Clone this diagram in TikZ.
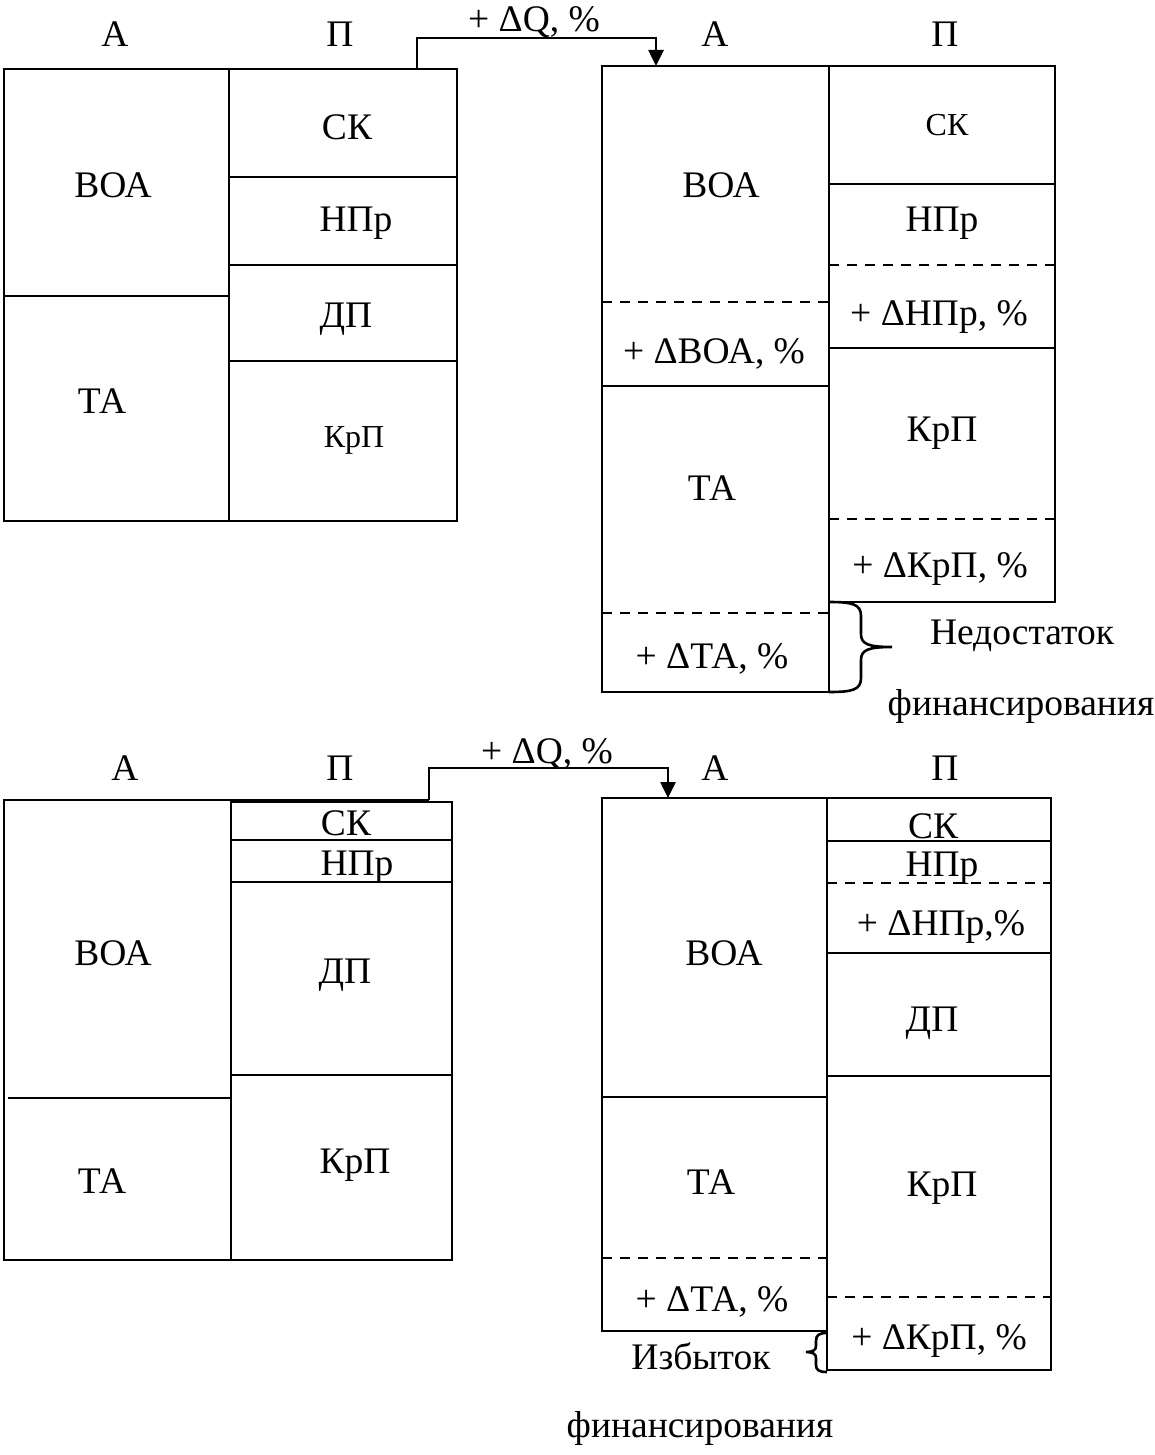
\documentclass[tikz,border=0pt]{standalone}
\usepackage{fontspec}
\setmainfont{Liberation Serif}
\usetikzlibrary{arrows.meta}
\begin{document}
\begin{tikzpicture}[x=1pt,y=-1pt,
  ln/.style={line width=2.9pt},
  dsh/.style={line width=2.6pt, dash pattern=on 10pt off 8pt},
  lbl/.style={anchor=base, inner sep=0pt, font=\fontsize{37.5}{42}\selectfont},
  slbl/.style={anchor=base, inner sep=0pt, font=\fontsize{32}{36}\selectfont},
  flow/.style={line width=2.6pt, -{Triangle[length=16pt,width=15pt]}},
  brc/.style={line width=2.6pt}]
\useasboundingbox (0,0) rectangle (1155,1455);

% ---------- top left balance ----------
\draw[ln] (4,69) rectangle (457,521);
\draw[ln] (229,69) -- (229,521);
\draw[ln] (4,296) -- (229,296);
\draw[ln] (229,177) -- (457,177);
\draw[ln] (229,265) -- (457,265);
\draw[ln] (229,361) -- (457,361);
\node[lbl] (h1a) at (115,47) {А};
\node[lbl] (h1p) at (340,47) {П};
\node[lbl] (t1voa) at (113,198) {ВОА};
\node[lbl] (t1ta) at (102,413) {ТА};
\node[lbl] (t1sk) at (347,140) {СК};
\node[lbl] (t1np) at (356,232) {НПр};
\node[lbl] (t1dp) at (346,327) {ДП};
\node[slbl] (t1kp) at (354,447) {КрП};

% ---------- top right balance ----------
\draw[ln] (602,66) rectangle (829,692);
\draw[ln] (829,66) rectangle (1055,602);
\draw[dsh] (602,302) -- (829,302);
\draw[ln] (602,386) -- (829,386);
\draw[dsh] (602,613) -- (829,613);
\draw[ln] (829,184) -- (1055,184);
\draw[dsh] (829,265) -- (1055,265);
\draw[ln] (829,348) -- (1055,348);
\draw[dsh] (829,519) -- (1055,519);
\node[lbl] (h2a) at (715,47) {А};
\node[lbl] (h2p) at (945,47) {П};
\node[lbl] (t2voa) at (721,198) {ВОА};
\node[lbl] (t2dvoa) at (714,363) {+ ΔВОА, \%};
\node[lbl] (t2ta) at (712,500) {ТА};
\node[lbl] (t2dta) at (712,668) {+ ΔТА, \%};
\node[slbl] (t2sk) at (947,136) {СК};
\node[lbl] (t2np) at (942,232) {НПр};
\node[lbl] (t2dnp) at (939,325) {+ ΔНПр, \%};
\node[lbl] (t2kp) at (942,441) {КрП};
\node[lbl] (t2dkp) at (940,577) {+ ΔКрП, \%};

% arrow top
\coordinate (q1a) at (417,69);
\coordinate (q1b) at (656,66);
\draw[flow] (q1a) -- ++(0,-31) -| (q1b);
\node[lbl] (q1) at (534,32) {+ ΔQ, \%};

% brace top (deficit)
\draw[brc] (829,602) .. controls (852,602) and (861,604) .. (861,616) -- (861,634)
  .. controls (861,644) and (868,647) .. (892,647)
  .. controls (868,647) and (861,650) .. (861,660) -- (861,678)
  .. controls (861,690) and (852,692) .. (829,692);
\node[lbl] (nd1) at (1022,644) {Недостаток};
\node[lbl] (nd2) at (1021,715) {финансирования};

% ---------- bottom left balance ----------
\draw[ln] (231,1260) -- (4,1260) -- (4,800) -- (429,800);
\draw[ln] (231,802) rectangle (452,1260);
\draw[ln] (8,1098) -- (231,1098);
\draw[ln] (231,840) -- (452,840);
\draw[ln] (231,882) -- (452,882);
\draw[ln] (231,1075) -- (452,1075);
\node[lbl] (h3a) at (125,780) {А};
\node[lbl] (h3p) at (340,780) {П};
\node[lbl] (b1voa) at (113,965) {ВОА};
\node[lbl] (b1ta) at (102,1193) {ТА};
\node[lbl] (b1sk) at (346,835) {СК};
\node[lbl] (b1np) at (357,875) {НПр};
\node[lbl] (b1dp) at (345,983) {ДП};
\node[lbl] (b1kp) at (355,1173) {КрП};

% ---------- bottom right balance ----------
\draw[ln] (602,798) rectangle (827,1331);
\draw[ln] (827,798) rectangle (1051,1370);
\draw[ln] (602,1097) -- (827,1097);
\draw[dsh] (602,1258) -- (827,1258);
\draw[ln] (827,841) -- (1051,841);
\draw[dsh] (827,883) -- (1051,883);
\draw[ln] (827,953) -- (1051,953);
\draw[ln] (827,1076) -- (1051,1076);
\draw[dsh] (827,1297) -- (1051,1297);
\node[lbl] (h4a) at (715,780) {А};
\node[lbl] (h4p) at (945,780) {П};
\node[lbl] (b2voa) at (724,965) {ВОА};
\node[lbl] (b2ta) at (711,1194) {ТА};
\node[lbl] (b2dta) at (712,1311) {+ ΔТА, \%};
\node[lbl] (b2sk) at (933,838) {СК};
\node[lbl] (b2np) at (942,876) {НПр};
\node[lbl] (b2dnp) at (941,935) {+ ΔНПр,\%};
\node[lbl] (b2dp) at (932,1031) {ДП};
\node[lbl] (b2kp) at (942,1196) {КрП};
\node[lbl] (b2dkp) at (939,1349) {+ ΔКрП, \%};

% arrow bottom
\coordinate (q2a) at (429,800);
\coordinate (q2b) at (668,798);
\draw[flow] (q2a) -- ++(0,-32) -| (q2b);
\node[lbl] (q2) at (547,763) {+ ΔQ, \%};

% brace bottom (surplus)
\draw[brc] (827,1333) .. controls (819,1333) and (816,1335) .. (816,1341) -- (816,1346)
  .. controls (816,1350) and (813,1352) .. (806,1352)
  .. controls (813,1352) and (816,1354) .. (816,1358) -- (816,1365)
  .. controls (816,1370) and (819,1372) .. (827,1372);
\node[lbl] (iz1) at (701,1369) {Избыток};
\node[lbl] (iz2) at (700,1437) {финансирования};
\end{tikzpicture}
\end{document}
